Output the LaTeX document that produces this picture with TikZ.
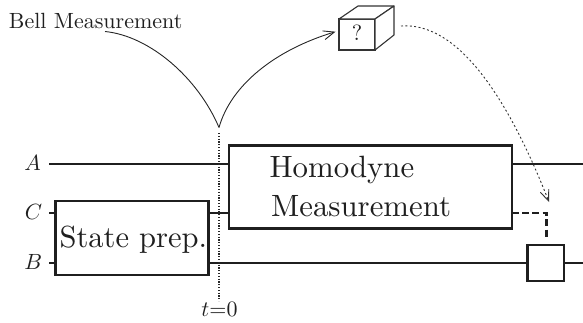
\documentclass[tikz,border=0pt]{standalone}
\usetikzlibrary{arrows.meta}
\tikzset{
 wire/.style={line width=2.2pt,draw=black!88},
 boxn/.style={draw=black!88,line width=2.2pt,fill=white,inner sep=0pt,outer sep=0pt,anchor=north west},
 txt/.style={inner sep=0pt,anchor=base west,text=black!88},
 thinl/.style={line width=0.9pt,draw=black!85},
 dots/.style={line width=1.1pt,dash pattern=on 1.1pt off 1.7pt,draw=black!85},
 facel/.style={line width=1.1pt,draw=black!80,fill=white,line join=round},
 barb/.style={-{Straight Barb[length=11pt,width=9pt]}},
}
\begin{document}
\begin{tikzpicture}[x=1pt,y=-1pt]
\useasboundingbox (0,0) rectangle (583,322);
% labels
\node[txt,scale=2.2] (bell) at (8.5,28) {Bell Measurement};
\node[txt,scale=2.2] (la) at (24,170) {$A$};
\node[txt,scale=2.2] (lc) at (24.5,219) {$C$};
\node[txt,scale=2.2] (lb) at (24,269) {$B$};
\node[inner sep=0pt,anchor=base,scale=2.2,text=black!88] (tz) at (219.5,316.5) {$t{=}0$};
% anchors
\coordinate (cusp) at (219,127.5);
\coordinate (bellend) at (105,31.5);
\coordinate (astart) at (49,164);
\coordinate (cstart) at (49,213);
\coordinate (bstart) at (49,263);
\coordinate (aend) at (583,164);
\coordinate (bend) at (583,263);
\coordinate (dtop) at (219,133);
\coordinate (dbot) at (219,301);
% boxes
\node[boxn,minimum width=283pt,minimum height=83pt] (hom) at (229,145.5) {};
\node[boxn,minimum width=153pt,minimum height=74pt] (prep) at (55.5,201) {};
\node[boxn,minimum width=36.5pt,minimum height=36pt] (gate) at (527.5,245) {};
\node[txt,scale=3.08] (t1) at (269,177) {Homodyne};
\node[txt,scale=3.08] (t2) at (270.5,216) {Measurement};
\node[txt,scale=3.05] (t3) at (59,247) {State prep.};
% wires
\draw[wire] (astart) -- (hom.west |- astart);
\draw[wire] (hom.east |- aend) -- (aend);
\draw[wire] (cstart) -- (prep.west |- cstart);
\draw[wire] (bstart) -- (prep.west |- bstart);
\draw[wire] (prep.east |- cstart) -- (hom.west |- cstart);
\draw[wire] (prep.east |- bstart) -- (gate.west |- bstart);
\draw[wire] (gate.east |- bend) -- (bend);
% dotted time line
\draw[dots] (dtop) -- (dbot);
% dashed feedback
\coordinate (fb) at (546.5,213);
\coordinate (fbe) at (546.5,238.5);
\draw[wire,dash pattern=on 7pt off 3.2pt] (hom.east |- fb) -- (fb) -- (fbe);
% cube
\node[draw=black!80,line width=1.1pt,outer sep=0pt,minimum width=36pt,minimum height=31pt,inner sep=0pt,anchor=north west] (cube) at (339,19) {};
\node[inner sep=0pt,scale=2.2,text=black!88] (q) at (357,33) {?};
\draw[facel] (cube.north west) -- (358,6) -- (394,6) -- (cube.north east) -- cycle;
\draw[facel] (cube.north east) -- (394,6) -- (394,35) -- (cube.south east) -- cycle;
% curves
\coordinate (tip) at (335.5,31.7);
\draw[thinl] (bellend) .. controls (150,36) and (198,78) .. (cusp);
\draw[thinl,barb] (cusp) .. controls (231,85) and (275,50) .. (tip);
\coordinate (ds) at (401,26);
\coordinate (de) at (549,202);
\draw[line width=0.9pt,draw=black!80,dash pattern=on 2pt off 2.4pt,barb] (ds) .. controls (455,22) and (505,90) .. (de);
\end{tikzpicture}
\end{document}
